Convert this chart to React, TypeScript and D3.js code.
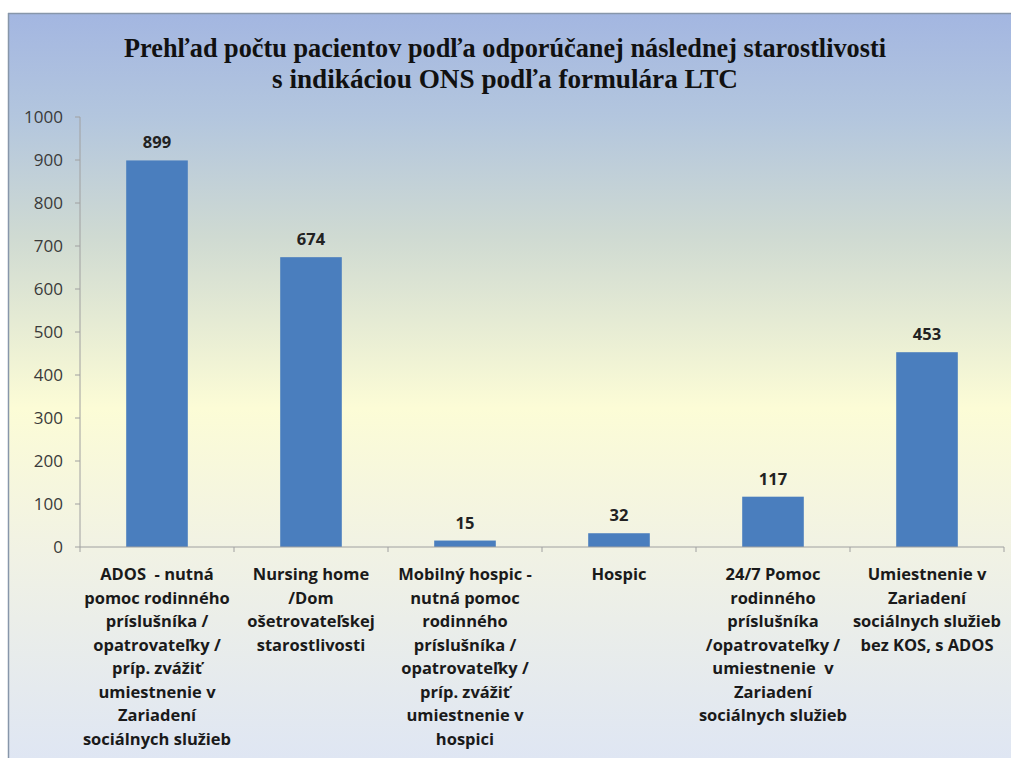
import React from "react";
import * as d3 from "d3";

const titleLines = [
  "Prehľad počtu pacientov podľa odporúčanej následnej starostlivosti",
  "s indikáciou ONS podľa formulára LTC",
];

const categories = [
  ["ADOS  - nutná", "pomoc rodinného", "príslušníka /", "opatrovateľky /", "príp. zvážiť", "umiestnenie v", "Zariadení", "sociálnych služieb"],
  ["Nursing home", "/Dom", "ošetrovateľskej", "starostlivosti"],
  ["Mobilný hospic -", "nutná pomoc", "rodinného", "príslušníka /", "opatrovateľky /", "príp. zvážiť", "umiestnenie v", "hospici"],
  ["Hospic"],
  ["24/7 Pomoc", "rodinného", "príslušníka", "/opatrovateľky /", "umiestnenie  v", "Zariadení", "sociálnych služieb"],
  ["Umiestnenie v", "Zariadení", "sociálnych služieb", "bez KOS, s ADOS"],
];

const values = [899, 674, 15, 32, 117, 453];

const yTicks = [0, 100, 200, 300, 400, 500, 600, 700, 800, 900, 1000];

const W = 1011;
const H = 758;
const LABEL_FONT = "'Open Sans', 'Noto Sans', sans-serif";

export default function App() {
  const ids = categories.map((_, i) => String(i));
  const x = d3.scaleBand().domain(ids).range([80, 1004]).paddingInner(0.6).paddingOuter(0.3);
  const y = d3.scaleLinear().domain([0, 1000]).range([547, 117]);
  const step = x.step();
  const axisLeft = 80;
  const axisRight = 1004;

  return (
    <div style={{ position: "absolute", left: 0, top: 0 }}>
      <svg width={W} height={H} style={{ display: "block" }}>
        <defs>
          <linearGradient id="bg" x1="0" y1="0" x2="0" y2="1">
            <stop offset="0%" stopColor="#a3b6e1" />
            <stop offset="14%" stopColor="#b3c6de" />
            <stop offset="30%" stopColor="#cfdad2" />
            <stop offset="53%" stopColor="#fcfcd6" />
            <stop offset="72%" stopColor="#f1f2e4" />
            <stop offset="100%" stopColor="#dfe6f3" />
          </linearGradient>
        </defs>
        <rect x={0} y={0} width={W} height={H} fill="#ffffff" />
        <rect x={8} y={13} width={W - 8} height={H - 13} fill="url(#bg)" />
        <line x1={8} x2={W} y1={13.5} y2={13.5} stroke="#8796aa" strokeWidth={1.5} />
        <line x1={8.5} x2={8.5} y1={13} y2={H} stroke="#8796aa" strokeWidth={1.5} />

        {/* title */}
        {titleLines.map((t, i) => (
          <text
            key={i}
            x={505}
            y={57 + i * 31}
            textAnchor="middle"
            fontFamily="'Liberation Serif', 'DejaVu Serif', serif"
            fontWeight="bold"
            fontSize={28}
            fill="#111"
            textLength={i === 0 ? 762 : 466}
            lengthAdjust="spacingAndGlyphs"
          >
            {t}
          </text>
        ))}

        {/* y axis */}
        <line x1={axisLeft} x2={axisLeft} y1={y(1000)} y2={y(0)} stroke="#a0a0a0" />
        {yTicks.map((t) => (
          <g key={t}>
            <line x1={axisLeft - 5} x2={axisLeft} y1={y(t)} y2={y(t)} stroke="#a0a0a0" />
            <text
              x={63}
              y={y(t)}
              dy="0.35em"
              textAnchor="end"
              fontFamily={LABEL_FONT}
              fontSize={17}
              fill="#3a3a3a"
            >
              {t}
            </text>
          </g>
        ))}

        {/* bars */}
        {values.map((v, i) => {
          const bx = x(String(i)) || 0;
          return (
            <g key={i}>
              <rect x={bx} y={y(v)} width={x.bandwidth()} height={y(0) - y(v)} fill="#4a7ebe" />
              <text
                x={bx + x.bandwidth() / 2}
                y={y(v) - 12}
                textAnchor="middle"
                fontFamily={LABEL_FONT}
                fontWeight="bold"
                fontSize={16.5}
                fill="#222"
              >
                {v}
              </text>
            </g>
          );
        })}

        {/* x axis */}
        <line x1={axisLeft} x2={axisRight} y1={y(0)} y2={y(0)} stroke="#a0a0a0" />
        {d3.range(categories.length + 1).map((i) => (
          <line
            key={i}
            x1={axisLeft + i * step}
            x2={axisLeft + i * step}
            y1={y(0)}
            y2={y(0) + 5}
            stroke="#a0a0a0"
          />
        ))}

        {/* category labels */}
        {categories.map((lines, i) => (
          <text
            key={i}
            textAnchor="middle"
            fontFamily={LABEL_FONT}
            fontWeight="bold"
            fontSize={16.5}
            fill="#1a1a1a"
          >
            {lines.map((l, j) => (
              <tspan key={j} x={(x(String(i)) || 0) + x.bandwidth() / 2} y={580 + j * 23.5} style={{ whiteSpace: "pre" }}>
                {l}
              </tspan>
            ))}
          </text>
        ))}
      </svg>
    </div>
  );
}
